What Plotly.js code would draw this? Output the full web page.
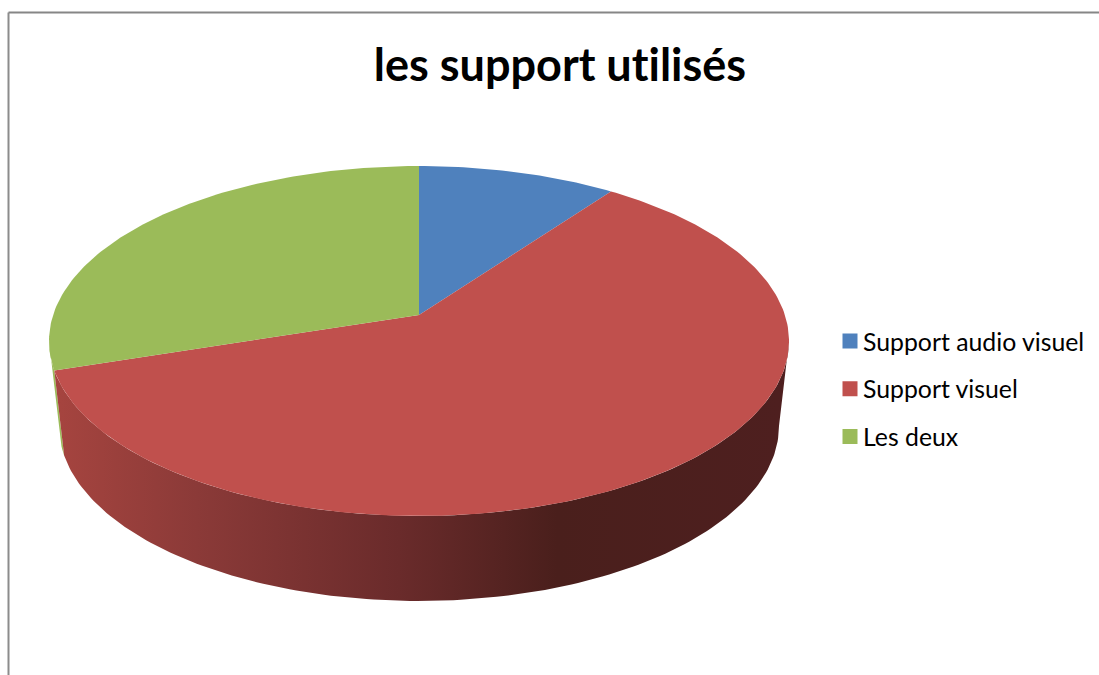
<!DOCTYPE html>
<html>
<head>
<meta charset="utf-8">
<script src="https://cdn.plot.ly/plotly-3.0.1.min.js"></script>
<style>html,body{margin:0;padding:0;background:#fff;overflow:hidden}#chart{width:1099px;height:675px}text{font-variant-ligatures:none !important;font-feature-settings:"liga" 0,"clig" 0 !important}</style>
</head>
<body>
<div id="chart"></div>
<script>
const chartTitle = "les support utilisés";
const categories = ["Support audio visuel", "Support visuel", "Les deux"];
const values = [10, 60, 30];
const colors = ["#4F81BD", "#C0504D", "#9BBB59"];

// Perspective view of the disc (axes are set up in page pixels).
const cx = 419, k = 0.1486;
const top_ = {apexY: 315, a: 365.9, b: 171.1};
const base = {apexY: 400, a: 356.0, b: 171.1};
const project = (deg, d) => {
  const r = deg * Math.PI / 180, u = Math.sin(r), v = Math.cos(r), w = 1 + k * v;
  return [cx + d.a * u / w, d.apexY - d.b * v / w];
};
const arc = (from, to, d) => {
  const pts = [], n = Math.max(2, Math.ceil(Math.abs(to - from)));
  for (let i = 0; i <= n; i++) pts.push(project(from + (to - from) * i / n, d));
  return pts;
};

const total = values.reduce((s, v) => s + v, 0);
let acc = 0;
const spans = values.map(v => { const s = [acc, acc + v / total * 360]; acc = s[1]; return s; });
const rightEdge = Math.acos(-k) * 180 / Math.PI, leftEdge = 360 - rightEdge;

const poly = (pts, extra) => Object.assign({
  x: pts.map(p => p[0]), y: pts.map(p => p[1]), type: "scatter", mode: "lines",
  fill: "toself", line: {width: 0}, hoverinfo: "skip", showlegend: false
}, extra);

const traces = [];
// side wall: green sliver first, then the red front
const gWall = arc(spans[2][0], leftEdge, top_).concat(arc(leftEdge, spans[2][0], base));
traces.push(poly(gWall, {fillcolor: colors[2]}));
const rWall = arc(rightEdge, spans[1][1], top_).concat(arc(spans[1][1], rightEdge, base));
traces.push(poly(rWall, {fillgradient: {
  type: "horizontal", start: 60, stop: 780,
  colorscale: [[0, "#A5443F"], [0.19, "#8B3A38"], [0.47, "#6A2B2B"], [0.69, "#4A1F1C"], [1, "#4E1F1F"]]
}}));
// top faces
spans.forEach((s, i) => {
  const pts = [[cx, top_.apexY]].concat(arc(s[0], s[1], top_));
  pts.push([cx, top_.apexY]);
  traces.push(poly(pts, {fillcolor: colors[i]}));
});
// legend keys
categories.forEach((c, i) => traces.push({
  x: [null], y: [null], type: "scatter", mode: "markers", name: c, legendgroup: c,
  marker: {symbol: "square", size: 15, color: colors[i]}, showlegend: true, hoverinfo: "skip"
}));

const layout = {
  width: 1099, height: 675, margin: {l: 0, r: 0, t: 0, b: 0},
  paper_bgcolor: "#fff", plot_bgcolor: "#fff", showlegend: true,
  font: {family: "Lato, Carlito, sans-serif", color: "#000"},
  title: {text: "<b>" + chartTitle + "</b>", x: 560 / 1099, xanchor: "center", xref: "paper",
          y: 1 - 65 / 675, yanchor: "middle", yref: "paper",
          font: {family: "Lato, sans-serif", size: 45, color: "#000"}},
  xaxis: {range: [0, 1099], visible: false, fixedrange: true},
  yaxis: {range: [675, 0], visible: false, fixedrange: true},
  legend: {x: 823 / 1099, xanchor: "left", y: 1 - 318.5 / 675, yanchor: "top",
           font: {family: "Lato, sans-serif", size: 24.8, color: "#000"},
           tracegroupgap: 12.4, bgcolor: "rgba(0,0,0,0)", borderwidth: 0, itemclick: false, itemdoubleclick: false},
  shapes: [
    {type: "line", xref: "paper", yref: "paper", x0: 8.5/1099, x1: 8.5/1099, y0: 0, y1: 1 - 12.5/675, line: {color: "#8C8C8C", width: 2}},
    {type: "line", xref: "paper", yref: "paper", x0: 8.5/1099, x1: 1, y0: 1 - 12.5/675, y1: 1 - 12.5/675, line: {color: "#868686", width: 2}}
  ]
};

Plotly.newPlot("chart", traces, layout, {displayModeBar: false}).then(() => {
  document.querySelectorAll(".legendsymbols").forEach(g => g.setAttribute("transform", "translate(7,0)"));
});
</script>
</body>
</html>
